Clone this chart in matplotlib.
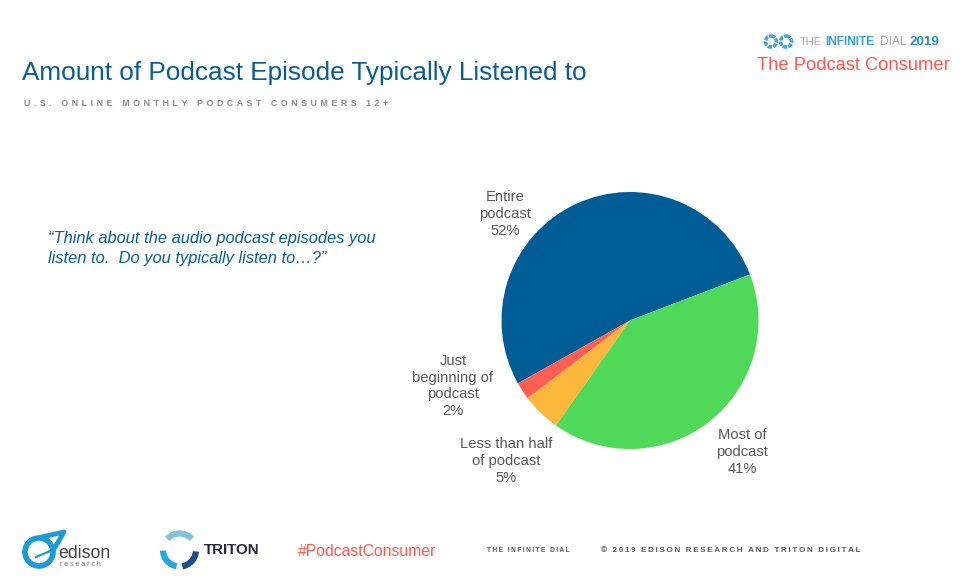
import matplotlib
matplotlib.use("Agg")
import matplotlib.pyplot as plt
from matplotlib.patches import Arc, Circle

plt.rcParams['font.family'] = ['Liberation Sans', 'DejaVu Sans']

categories = ["Entire\npodcast", "Just\nbeginning of\npodcast", "Less than half\nof podcast", "Most of\npodcast"]
shares = [52.3, 2.2, 4.9, 40.6]
colors = ["#005C94", "#FF5F52", "#FBB73C", "#50D958"]

W, H = 974, 583
BLUE = "#0B5C92"
CORAL = "#FF5A50"
GREY = "#595959"

def spaced(s, n=1):
    # no letter spacing in matplotlib, so pad with thin spaces
    return ("\u2009" * n).join(s)

fig = plt.figure(figsize=(W / 100, H / 100), dpi=100, facecolor="white")

# overlay in pixel coords, y going down like the picture
bg = fig.add_axes([0, 0, 1, 1])
bg.set_xlim(0, W)
bg.set_ylim(H, 0)
bg.axis('off')

# pie
cx, cy, r = 630, 320.5, 128.5
ax = fig.add_axes([(cx - r) / W, 1 - (cy + r) / H, 2 * r / W, 2 * r / H])
ax.pie(shares, colors=colors, startangle=21, counterclock=True, radius=1)
ax.set_xlim(-1, 1)
ax.set_ylim(-1, 1)

# slice labels
label_pos = [(505, 214), (453, 386), (506, 461), (742, 452)]
for name, share, (x, y) in zip(categories, shares, label_pos):
    bg.text(x, y, "{}\n{:.0f}%".format(name, share), ha='center', va='center',
            fontsize=10.6, color=GREY, linespacing=1.23)

# headings
bg.text(22, 73, "Amount of Podcast Episode Typically Listened to", fontsize=18.85,
        color=BLUE, va='center', ha='left')
bg.text(24, 103, spaced("U.S. ONLINE MONTHLY PODCAST CONSUMERS 12+", 2), fontsize=6.4,
        color="#8C8C8C", va='center', ha='left', fontweight='bold')
bg.text(48, 239, "\u201cThink about the audio podcast episodes you", fontsize=11.9,
        color=BLUE, style='italic', va='center', ha='left')
bg.text(48, 258, "listen to.  Do you typically listen to\u2026?\u201d", fontsize=11.9,
        color=BLUE, style='italic', va='center', ha='left')

# infinite dial logo, top right
for x0 in (771, 786):
    bg.add_patch(Circle((x0, 41.5), 5.5, fill=False, ec="#4FA3CC", lw=2.6, ls=(0, (1.2, 0.3))))
bg.text(800, 42, "THE", fontsize=8, color="#A6A6A6", va='center', ha='left')
bg.text(825, 42, "INFINITE", fontsize=8.6, color="#35A3D0", fontweight='bold', va='center', ha='left')
bg.text(880, 42, "DIAL", fontsize=8.6, color="#A6A6A6", va='center', ha='left')
bg.text(910, 42, "2019", fontsize=9.6, color="#2C8FC0", fontweight='bold', va='center', ha='left')
bg.text(853, 65.5, "The Podcast Consumer", fontsize=13.2, color=CORAL, va='center', ha='center')

# edison logo
bg.add_patch(Circle((39, 552), 14, fill=False, ec="#1E9BD7", lw=4))
bg.plot([42, 64, 54], [537, 532, 549], color="#1E9BD7", lw=3.5, solid_joinstyle='round')
bg.plot([36, 55], [557, 549], color="#1E9BD7", lw=1.6)
bg.text(58, 553.5, "edison", fontsize=12.8, color="#444444", va='center', ha='left')
bg.text(60, 564, spaced("research"), fontsize=5.6, color="#777777", va='center', ha='left')

# triton logo
for start, end, col in [(222, 318, "#7FC4DC"), (100, 178, "#2BA6DC"), (5, 80, "#1F4E8C")]:
    bg.add_patch(Arc((179.5, 550), 33, 33, angle=0, theta1=start, theta2=end, color=col, lw=4.5))
bg.text(204, 550.5, "TRITON", fontsize=10.9, color="#25284A", fontweight='bold', va='center', ha='left')
bg.text(298, 551, "#PodcastConsumer", fontsize=11.3, color=CORAL, va='center', ha='left')

# footer
bg.text(487, 551, spaced("THE INFINITE DIAL"), fontsize=4.8, color="#595959", va='center', ha='left', fontweight='bold')
bg.text(601, 551, spaced("\u00a9 2019 EDISON RESEARCH AND TRITON DIGITAL"), fontsize=5.9,
        color="#595959", va='center', ha='left', fontweight='bold')

fig.savefig("out.png", dpi=100)
